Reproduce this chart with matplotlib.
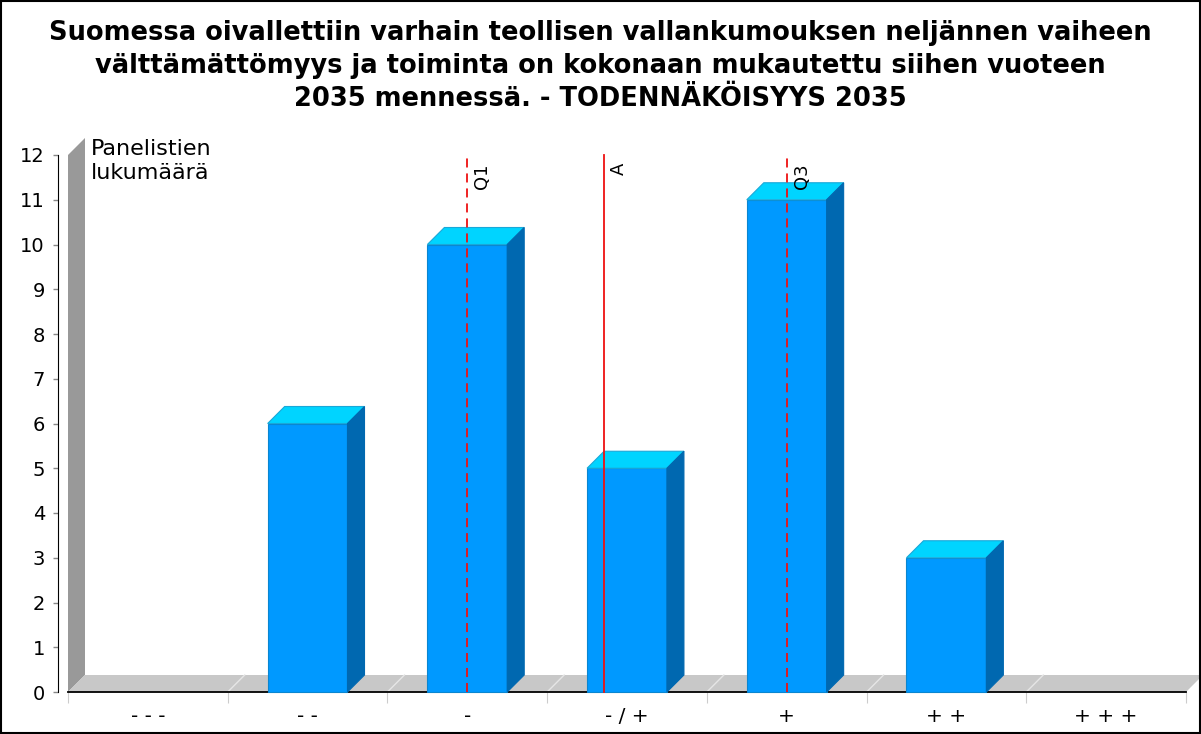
import matplotlib
matplotlib.use("Agg")
import matplotlib.pyplot as plt
from matplotlib.patches import Polygon, Rectangle

categories = ["- - -", "- -", "-", "- / +", "+", "+ +", "+ + +"]
counts = [0, 6, 10, 5, 11, 3, 0]
yticks = list(range(0, 13))
title = ("Suomessa oivallettiin varhain teollisen vallankumouksen neljännen vaiheen\n"
         "välttämättömyys ja toiminta on kokonaan mukautettu siihen vuoteen\n"
         "2035 mennessä. - TODENNÄKÖISYYS 2035")
ylabel = "Panelistien\nlukumäärä"
q1, mean_a, q3 = 2.0, 2.857, 4.0
ref_labels = ["Q1", "A", "Q3"]

W, H = 1201, 734
fig = plt.figure(figsize=(W / 100, H / 100), dpi=100)
fig.patch.set_facecolor("white")

ax_l, ax_r, ax_t, ax_b = 68, 1186, 155, 692
ax = fig.add_axes([ax_l / W, 1 - ax_b / H, (ax_r - ax_l) / W, (ax_b - ax_t) / H])
n = len(categories)
ax.set_xlim(-0.5, n - 0.5)
ax.set_ylim(0, 12)

depth_px = 17
dx = depth_px / ((ax_r - ax_l) / n)
dy = depth_px / ((ax_b - ax_t) / 12)

# wall and floor
wall = Polygon([(-0.5, 0), (-0.5, 12), (-0.5 + dx, 12 + dy), (-0.5 + dx, dy)],
               closed=True, facecolor="#999999", edgecolor="none", clip_on=False, zorder=1)
ax.add_patch(wall)
floor = Polygon([(-0.5, 0), (n - 0.5, 0), (n - 0.5 + dx, dy), (-0.5 + dx, dy)],
                closed=True, facecolor="#c8c8c8", edgecolor="none", clip_on=False, zorder=1)
ax.add_patch(floor)
for b in range(1, n):
    ax.plot([b - 0.5, b - 0.5 + dx], [0, dy], color="#e6e6e6", lw=1, clip_on=False, zorder=1.5)

# bars
bw = 0.5
front_c, top_c, side_c = "#0099ff", "#00d4ff", "#0068b0"
for i, v in enumerate(counts):
    if v <= 0:
        continue
    x0, x1 = i - bw / 2, i + bw / 2
    ax.add_patch(Rectangle((x0, 0), bw, v, facecolor=front_c, edgecolor="#0a86d0",
                           lw=0.8, zorder=3, clip_on=False))
    ax.add_patch(Polygon([(x0, v), (x1, v), (x1 + dx, v + dy), (x0 + dx, v + dy)],
                         closed=True, facecolor=top_c, edgecolor="#1aa8d8", lw=0.8,
                         zorder=3, clip_on=False))
    ax.add_patch(Polygon([(x1, 0), (x1 + dx, dy), (x1 + dx, v + dy), (x1, v)],
                         closed=True, facecolor=side_c, edgecolor=side_c, lw=0.8,
                         zorder=3, clip_on=False))

# reference lines
px_per_cat = (ax_r - ax_l) / n
for xv, lab, ls in zip([q1, mean_a, q3], ref_labels, [(0, (5, 3.3)), "-", (0, (5, 3.3))]):
    ax.plot([xv, xv], [0, 12], color="#ee1111", lw=1.3, ls=ls, zorder=4, clip_on=False)
    ax.text(xv + 6 / px_per_cat, 11.82, lab, rotation=90, ha="left", va="top",
            fontsize=13, color="black", zorder=5)

# axes styling
for s in ["top", "right"]:
    ax.spines[s].set_visible(False)
ax.spines["left"].set_position(("outward", 7.2))
ax.spines["left"].set_color("black")
ax.spines["bottom"].set_color("black")
ax.spines["bottom"].set_linewidth(1.3)
ax.spines["bottom"].set_zorder(2)
ax.set_yticks(yticks)
ax.set_yticklabels([str(t) for t in yticks], fontsize=14)
ax.tick_params(axis="y", length=3.6, width=1, color="#888888", pad=5.8)

ax.set_xticks([b - 0.5 for b in range(0, n + 1)])
ax.set_xticklabels([])
ax.tick_params(axis="x", which="major", length=8, color="#cccccc", direction="out")
ax.set_xticks(range(n), minor=True)
ax.set_xticklabels(categories, minor=True, fontsize=14.5)
ax.tick_params(axis="x", which="minor", length=0, pad=10.5)

ax.text(-0.5 + (91 - ax_l) / px_per_cat, 12 + dy * 0.95, ylabel,
        ha="left", va="top", fontsize=16, linespacing=1.25)

fig.text(0.5, 1 - 20 / H, title, ha="center", va="top", fontsize=18.5,
         fontweight="bold", linespacing=1.34)

fig.add_artist(Rectangle((0.001, 0.001), 0.998, 0.997, transform=fig.transFigure,
                         fill=False, edgecolor="black", lw=1.5))

fig.savefig("out.png", dpi=100)
